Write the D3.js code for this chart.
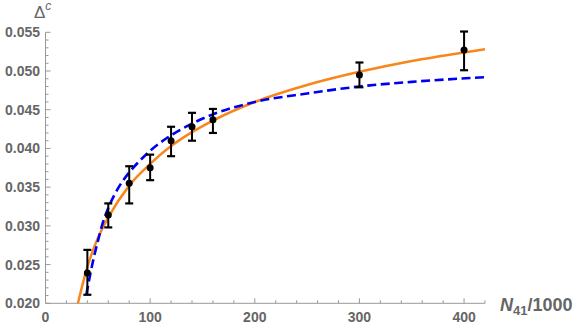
<!DOCTYPE html>
<style>
  body { margin: 0; background: #fff; }
  svg { font-family: "Liberation Sans", Arial, sans-serif; }
</style>
<svg width="581" height="331"></svg>
<script src="https://d3js.org/d3.v7.min.js"></script>
<script>

  // measured points with error bars
  var nVals   = [40, 60, 80, 100, 120, 140, 160, 300, 400];
  var dVals   = [0.0239, 0.0314, 0.0355, 0.0375, 0.0410, 0.0428, 0.0437, 0.0495, 0.0527];
  var dLow    = [0.0211, 0.0298, 0.0329, 0.0359, 0.0390, 0.0410, 0.0420, 0.0479, 0.0501];
  var dHigh   = [0.0269, 0.0329, 0.0377, 0.0392, 0.0428, 0.0446, 0.0451, 0.0511, 0.0551];

  // orange fit
  var fitN = [31, 40, 50, 60, 80, 100, 120, 140, 160, 200, 250, 300, 350, 400, 420];
  var fitD = [0.0200, 0.0247, 0.0284, 0.0311, 0.0352, 0.0380, 0.0403, 0.0421, 0.0436, 0.0460, 0.0482, 0.0499, 0.0513, 0.0524, 0.0528];

  // blue dashed fit
  var fit2N = [39, 45, 50, 55, 60, 70, 80, 90, 100, 120, 140, 160, 180, 200, 250, 300, 350, 420];
  var fit2D = [0.0211, 0.0252, 0.0280, 0.0305, 0.0323, 0.0350, 0.0369, 0.0384, 0.0397, 0.0417, 0.0432, 0.0444, 0.0453, 0.0460, 0.0471, 0.0480, 0.0486, 0.0492];

  var xTicks = [0, 100, 200, 300, 400];
  var yTicks = [0.020, 0.025, 0.030, 0.035, 0.040, 0.045, 0.050, 0.055];

  var svg = d3.select("svg");
  var grey = "#999", labelCol = "#666";

  var x = d3.scaleLinear().domain([0, 420]).range([45.5, 485]);
  var y = d3.scaleLinear().domain([0.020, 0.055]).range([303.3, 32.3]);

  // axes
  var ax = svg.append("g");
  ax.append("line").attr("x1", x(0)).attr("x2", x(420)).attr("y1", y(0.020)).attr("y2", y(0.020))
    .attr("stroke", grey).attr("stroke-width", 1);
  ax.append("line").attr("x1", x(0)).attr("x2", x(0)).attr("y1", y(0.020)).attr("y2", y(0.055))
    .attr("stroke", grey).attr("stroke-width", 1);

  var xMinor = d3.range(0, 421, 20);
  ax.selectAll(".xt").data(xMinor).enter().append("line")
    .attr("x1", function (d) { return x(d); }).attr("x2", function (d) { return x(d); })
    .attr("y1", y(0.020)).attr("y2", function (d) { return y(0.020) - (d % 100 === 0 ? 5 : 3); })
    .attr("stroke", grey);

  var yMinor = d3.range(20, 56).map(function (d) { return d / 1000; });
  ax.selectAll(".yt").data(yMinor).enter().append("line")
    .attr("y1", function (d) { return y(d); }).attr("y2", function (d) { return y(d); })
    .attr("x1", x(0)).attr("x2", function (d, i) { return x(0) + (i % 5 === 0 ? 5 : 3); })
    .attr("stroke", grey);

  ax.selectAll(".xl").data(xTicks).enter().append("text")
    .attr("x", function (d) { return x(d); }).attr("y", 322)
    .attr("text-anchor", "middle").attr("font-size", 14).attr("font-weight", "bold")
    .attr("fill", labelCol).text(function (d) { return d; });

  ax.selectAll(".yl").data(yTicks).enter().append("text")
    .attr("x", 40).attr("y", function (d) { return y(d) + 5; })
    .attr("text-anchor", "end").attr("font-size", 14).attr("font-weight", "bold")
    .attr("fill", labelCol).text(function (d) { return d3.format(".3f")(d); });

  // axis labels
  var yl = ax.append("text").attr("x", 34).attr("y", 18).attr("fill", labelCol).attr("font-size", 17);
  yl.append("tspan").text("Δ");
  yl.append("tspan").attr("dy", -8).attr("font-size", 12).attr("font-style", "italic").text("c");

  var xl = ax.append("text").attr("x", 500).attr("y", 311).attr("fill", labelCol)
    .attr("font-size", 18).attr("font-weight", "bold");
  xl.append("tspan").attr("font-style", "italic").text("N");
  xl.append("tspan").attr("dy", 4).attr("font-size", 13).text("41");
  xl.append("tspan").attr("dy", -4).text("/1000");

  // curves
  var fit = fitN.map(function (d, i) { return [d, fitD[i]]; });
  var fit2 = fit2N.map(function (d, i) { return [d, fit2D[i]]; });
  var line = d3.line().x(function (d) { return x(d[0]); }).y(function (d) { return y(d[1]); })
    .curve(d3.curveMonotoneX);

  svg.append("path").attr("d", line(fit)).attr("fill", "none")
    .attr("stroke", "#f9861c").attr("stroke-width", 2.5);
  svg.append("path").attr("d", line(fit2)).attr("fill", "none")
    .attr("stroke", "#0000f0").attr("stroke-width", 2.6).attr("stroke-dasharray", "9,4.5");

  // error bars
  var pts = nVals.map(function (d, i) { return { n: d, v: dVals[i], lo: dLow[i], hi: dHigh[i] }; });
  var g = svg.selectAll(".pt").data(pts).enter().append("g");
  g.append("line")
    .attr("x1", function (d) { return x(d.n); }).attr("x2", function (d) { return x(d.n); })
    .attr("y1", function (d) { return y(d.lo); }).attr("y2", function (d) { return y(d.hi); })
    .attr("stroke", "#000").attr("stroke-width", 2);
  [["lo"], ["hi"]].forEach(function (k) {
    g.append("line")
      .attr("x1", function (d) { return x(d.n) - 4; }).attr("x2", function (d) { return x(d.n) + 4; })
      .attr("y1", function (d) { return y(d[k[0]]); }).attr("y2", function (d) { return y(d[k[0]]); })
      .attr("stroke", "#000").attr("stroke-width", 2.2);
  });
  g.append("circle")
    .attr("cx", function (d) { return x(d.n); }).attr("cy", function (d) { return y(d.v); })
    .attr("r", 3.5).attr("fill", "#000");

</script>
